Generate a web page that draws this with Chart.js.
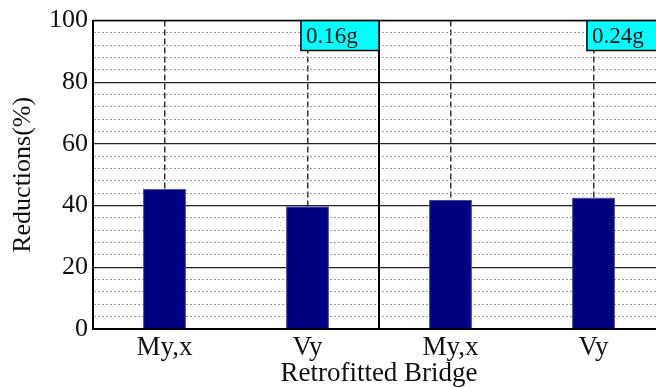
<!DOCTYPE html>
<html>
<head>
<meta charset="utf-8">
<script src="https://cdn.jsdelivr.net/npm/chart.js@4/dist/chart.umd.min.js"></script>
<style>
  html, body { margin: 0; padding: 0; overflow: hidden; background: #fff; }
  canvas { display: block; }
</style>
</head>
<body>
<canvas id="c" width="668" height="387"></canvas>
<script>
// ---- data ----
const categories = ['My,x', 'Vy'];
const pgaLabels = ['0.16g', '0.24g'];
const reductions016 = [45.5, 39.8];
const reductions024 = [41.8, 42.6];
const yTicks = [0, 20, 40, 60, 80, 100];
const yMinorStep = 4;
const xTitle = 'Retrofitted Bridge';
const yTitle = 'Reductions(%)';

const FONT = "'Liberation Serif', 'Times New Roman', serif";
const labels = [...categories, ...categories];
const values = [...reductions016, ...reductions024];

const panelPlugin = {
  id: 'panels',
  afterDatasetsDraw(chart) {
    const {ctx, chartArea, scales} = chart;
    const x = scales.x;
    const divider = (x.getPixelForValue(1) + x.getPixelForValue(2)) / 2;
    ctx.save();
    ctx.strokeStyle = '#000';
    ctx.lineWidth = 1.5;
    ctx.beginPath();
    ctx.moveTo(chartArea.left, chartArea.top);
    ctx.lineTo(chartArea.right, chartArea.top);
    ctx.moveTo(chartArea.right, chartArea.top);
    ctx.lineTo(chartArea.right, chartArea.bottom);
    ctx.stroke();
    ctx.lineWidth = 2;
    ctx.beginPath();
    ctx.moveTo(divider, chartArea.top);
    ctx.lineTo(divider, chartArea.bottom);
    ctx.stroke();
    const panelW = divider - chartArea.left;
    const boxW = panelW * 0.273;
    const boxH = (chartArea.bottom - chartArea.top) * 0.097;
    const rights = [divider, chartArea.right];
    pgaLabels.forEach((txt, i) => {
      const r = rights[i];
      const l = r - boxW;
      ctx.fillStyle = '#00ffff';
      ctx.fillRect(l, chartArea.top, boxW, boxH);
      ctx.strokeStyle = '#000';
      ctx.lineWidth = 1.5;
      ctx.strokeRect(l, chartArea.top, boxW, boxH);
      ctx.fillStyle = '#111';
      ctx.font = '23px ' + FONT;
      ctx.textBaseline = 'middle';
      ctx.textAlign = 'left';
      ctx.fillText(txt, l + 5, chartArea.top + boxH / 2 + 1);
    });
    ctx.restore();
  }
};

new Chart(document.getElementById('c'), {
  type: 'bar',
  data: {
    labels: labels,
    datasets: [{
      data: values,
      backgroundColor: '#000080',
      borderColor: '#4a4a92',
      borderWidth: 1,
      barPercentage: 0.3,
      categoryPercentage: 1.0
    }]
  },
  options: {
    responsive: false,
    devicePixelRatio: 1,
    animation: false,
    layout: { padding: { top: 19, right: 3, left: 0, bottom: 0 } },
    plugins: { legend: { display: false }, tooltip: { enabled: false } },
    scales: {
      x: {
        offset: true,
        afterFit(scale) { scale.height = 58; },
        grid: {
          offset: false,
          drawTicks: false,
          color: '#333',
          lineWidth: 1.5
        },
        border: {
          display: true,
          color: '#000',
          width: 2,
          dash: (c) => (c.type === 'tick' ? [6, 3] : [])
        },
        ticks: {
          color: '#111',
          padding: 3,
          font: { family: FONT, size: 27 },
          maxRotation: 0,
          autoSkip: false
        },
        title: {
          display: true,
          text: xTitle,
          color: '#111',
          font: { family: FONT, size: 27, lineHeight: 1.0 },
          padding: 0
        }
      },
      y: {
        min: 0,
        max: 100,
        afterFit(scale) { scale.width = 93; },
        ticks: {
          stepSize: yMinorStep,
          autoSkip: false,
          color: '#111',
          padding: 5,
          font: { family: FONT, size: 26 },
          callback: (v) => (yTicks.includes(v) ? String(v) : '')
        },
        grid: {
          drawTicks: false,
          color: (c) => (c.tick && yTicks.includes(c.tick.value) ? '#222' : '#9a9a9a'),
          lineWidth: (c) => (c.tick && yTicks.includes(c.tick.value) ? 1.2 : 1)
        },
        border: {
          display: true,
          color: '#000',
          width: 2,
          dash: (c) => (c.type === 'tick' && !yTicks.includes(c.tick.value) ? [2, 2] : [])
        },
        title: {
          display: true,
          text: yTitle,
          color: '#111',
          font: { family: FONT, size: 26 },
          padding: { top: 8, bottom: 0 }
        }
      }
    }
  },
  plugins: [panelPlugin]
});
</script>
</body>
</html>
